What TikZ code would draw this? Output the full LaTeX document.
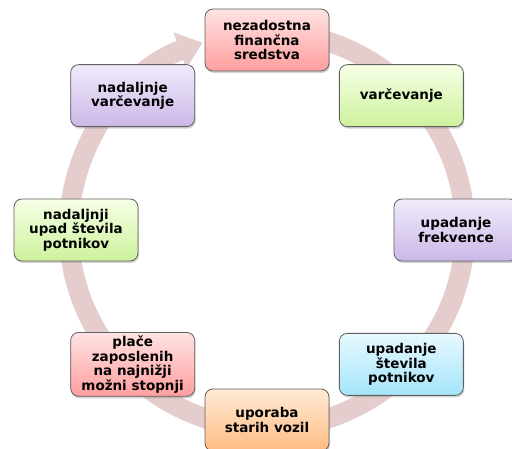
\documentclass[tikz,border=0pt]{standalone}
\usepackage{fontspec}
\setmainfont{DejaVu Sans}
\usepackage{tikz}
\usetikzlibrary{arrows.meta,shadows,positioning}

\definecolor{ringcol}{HTML}{E6CDCD}
\definecolor{redtop}{HTML}{FFE3E3}
\definecolor{redbot}{HTML}{FF9E9E}
\definecolor{greentop}{HTML}{F6FFE6}
\definecolor{greenbot}{HTML}{CDF29C}
\definecolor{violettop}{HTML}{F0EBFA}
\definecolor{violetbot}{HTML}{CCB8E8}
\definecolor{bluetop}{HTML}{E8F9FF}
\definecolor{bluebot}{HTML}{A3E4FA}
\definecolor{orangetop}{HTML}{FFEBD6}
\definecolor{orangebot}{HTML}{FFBB82}

\begin{document}
\begin{tikzpicture}[x=1pt,y=1pt,
		box/.style={rectangle, rounded corners=8pt, draw=gray!75!black, line width=0.8pt,
			minimum width=124pt, minimum height=62pt, align=center,
			font=\bfseries\fontsize{13.5}{14.5}\selectfont,
			drop shadow={shadow xshift=1pt, shadow yshift=-2pt, opacity=0.35}},
		redbox/.style={box, top color=redtop, bottom color=redbot},
		greenbox/.style={box, top color=greentop, bottom color=greenbot},
		violetbox/.style={box, top color=violettop, bottom color=violetbot},
		bluebox/.style={box, top color=bluetop, bottom color=bluebot},
		orangebox/.style={box, top color=orangetop, bottom color=orangebot}]
		\useasboundingbox (0,0) rectangle (512,448);
		\coordinate (c) at (267,218);
		% ring
		\draw[ringcol, line width=20pt, -{Triangle[width=37pt,length=24pt]}]
			([shift={(80:198)}]c) arc[start angle=80, end angle=-251, radius=198];
		% steps
		\node[redbox]		(s_0) at ([shift={(90:190)}]c)		{nezadostna\\finančna\\sredstva};
		\node[greenbox]		(s_1) at ([shift={(45:190)}]c)		{varčevanje};
		\node[violetbox]	(s_2) at ([shift={(0:189)}]c)		{upadanje\\frekvence};
		\node[bluebox]		(s_3) at ([shift={(-45:190)}]c)		{upadanje\\števila\\potnikov};
		\node[orangebox]	(s_4) at ([shift={(-90:190)}]c)		{uporaba\\starih vozil};
		\node[redbox]		(s_5) at ([shift={(-135:190)}]c)	{plače\\zaposlenih\\na najnižji\\možni stopnji};
		\node[greenbox]		(s_6) at ([shift={(180:191)}]c)		{nadaljnji\\upad števila\\potnikov};
		\node[violetbox]	(s_7) at ([shift={(135:190)}]c)		{nadaljnje\\varčevanje};
	\end{tikzpicture}
\end{document}
